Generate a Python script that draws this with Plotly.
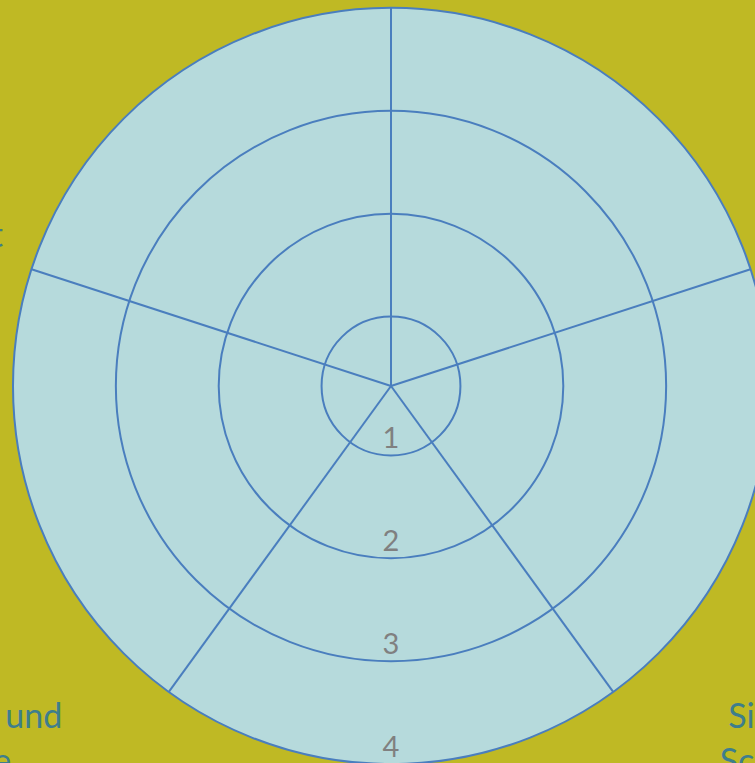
import plotly.graph_objects as go

EM = "\u2003"  # em space, used to shift label lines like the centred Excel labels
EN = "\u2002"  # en space
QS = "\u2005"  # four-per-em space
TS = "\u2009"  # thin space

# Data
categories = [
    "Selbstverwirklichung",
    "Anerkennung",
    EM * 4 + QS + "Sicherheit und<br>" + EM * 4 + "Schutzbedürfnis",
    "Beziehungen und" + EM * 4 + "<br>Familie" + EM * 6,
    "Selbstwert" + EN + TS + "<br>" + EM * 8,
]
category_angles = [0, 72, 144, 216, 288]
radial_ticks = [1, 2, 3, 4]
radial_ticktext = ["1", "2", "3", "4"]
tick_label_angle = [180, 180, 180, 180]

BG = "rgb(191,185,36)"
POLAR_BG = "rgb(182,218,220)"
LINE = "rgb(74,126,190)"
LABEL = "rgb(62,126,140)"
TICKGREY = "rgb(128,128,128)"

fig = go.Figure()

fig.add_trace(go.Scatterpolar(
    r=radial_ticks,
    theta=tick_label_angle,
    text=radial_ticktext,
    mode="text",
    textposition="top center",
    textfont=dict(family="Lato", size=29, color=TICKGREY),
    hoverinfo="skip",
    showlegend=False,
))

fig.update_layout(
    width=769,
    height=764,
    margin=dict(l=13, r=0, t=8, b=0, pad=0),
    paper_bgcolor=BG,
    plot_bgcolor=BG,
    showlegend=False,
    polar=dict(
        bgcolor=POLAR_BG,
        domain=dict(x=[0, 1], y=[0, 1]),
        radialaxis=dict(
            range=[0.325, 4],
            tickvals=radial_ticks,
            showticklabels=False,
            ticks="",
            showline=False,
            gridcolor=LINE,
            gridwidth=2,
        ),
        angularaxis=dict(
            type="linear",
            direction="clockwise",
            rotation=90,
            tickvals=category_angles,
            ticktext=categories,
            ticks="",
            tickfont=dict(family="Lato", size=34, color=LABEL),
            showline=True,
            linecolor=LINE,
            linewidth=2,
            gridcolor=LINE,
            gridwidth=2,
        ),
    ),
)

fig.write_html(
    "out.html",
    config={"displayModeBar": False},
    post_script="document.documentElement.style.overflow='hidden';"
                "document.body.style.margin='0';document.body.style.overflow='hidden';",
)
